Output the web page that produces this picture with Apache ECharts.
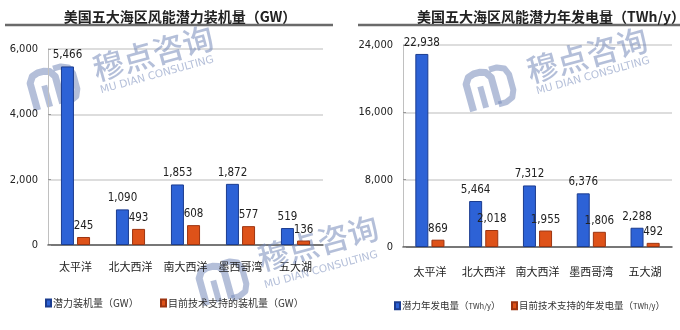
<!DOCTYPE html>
<html><head><meta charset="utf-8">
<script src="https://cdn.jsdelivr.net/npm/echarts@6/dist/echarts.min.js"></script>
<style>html,body{margin:0;padding:0;background:#fff}#c{width:680px;height:330px}</style>
</head><body><div id="c"></div>
<script>
// ---- data ----
const categories = ['太平洋', '北大西洋', '南大西洋', '墨西哥湾', '五大湖'];
const capacityPotential = [5466, 1090, 1853, 1872, 519];      // GW
const capacityCurrent   = [245, 493, 608, 577, 136];          // GW
const energyPotential   = [22938, 5464, 7312, 6376, 2288];    // TWh/y
const energyCurrent     = [869, 2018, 1955, 1806, 492];       // TWh/y
const titleLeft  = '美国五大海区风能潜力装机量（GW）';
const titleRight = '美国五大海区风能潜力年发电量（TWh/y）';
const nameCapPot = '潜力装机量（GW）';
const nameCapCur = '目前技术支持的装机量（GW）';
const nameEnPot  = '潜力年发电量（TWh/y）';
const nameEnCur  = '目前技术支持的年发电量（TWh/y）';

const NUM_FONT = '"Liberation Sans Narrow","DejaVu Sans Condensed",sans-serif';
const CJK_FONT = '"Noto Sans CJK SC",sans-serif';
const BLUE = '#2d62d6', BLUE_B = '#1b3c8f', ORANGE = '#de5219', ORANGE_B = '#9c3410';
const fmt = v => v.toLocaleString('en-US');

function yAxis(gi, max, interval) {
  return {
    type: 'value', gridIndex: gi, min: 0, max: max, interval: interval,
    axisLine: { show: true, lineStyle: { color: '#c0c0c0', width: 1 } },
    axisTick: { show: true, inside: true, length: 3, lineStyle: { color: '#999' } },
    splitLine: { lineStyle: { color: '#d2d2d2', width: 1.5 } },
    axisLabel: { formatter: fmt, margin: 10, color: '#222', fontFamily: NUM_FONT, fontSize: 11 }
  };
}
function xAxis(gi, margin) {
  return {
    type: 'category', gridIndex: gi, data: categories,
    axisLine: { lineStyle: { color: '#555', width: 1.5 } },
    axisTick: { show: false },
    axisLabel: { margin: margin, color: '#222', fontFamily: CJK_FONT, fontSize: 11, interval: 0 }
  };
}
function bar(name, data, gi, color, border) {
  return {
    name: name, type: 'bar', xAxisIndex: gi, yAxisIndex: gi, data: data,
    barWidth: 13, barGap: '24%', z: 3,
    itemStyle: { color: color, borderColor: border, borderWidth: 1 },
    label: { show: true, position: 'top', distance: 5, formatter: p => fmt(p.value),
             color: '#222', fontFamily: NUM_FONT, fontSize: 11.5 }
  };
}
function legend(name, left, top, unitSmall) {
  const l = { data: [name], left: left, top: top, itemWidth: 5, itemHeight: 7, itemGap: 3, icon: 'rect',
    textStyle: { fontFamily: CJK_FONT, fontSize: 10, color: '#333', padding: [0, 0, 0, -3] } };
  if (unitSmall) {
    l.formatter = n => { const i = n.indexOf('（'); return '{a|' + n.slice(0, i) + '（}{b|' + n.slice(i + 1, -1) + '}{a|）}'; };
    l.textStyle.rich = { a: { fontFamily: CJK_FONT, fontSize: 9.5, color: '#333' }, b: { fontFamily: CJK_FONT, fontSize: 7.5, color: '#333' } };
  }
  return l;
}

const WM_COLOR = 'rgba(118,138,185,0.55)';
function watermark(lx, ly, cx, cy, ex, ey) {
  const rot = 0.27;
  const st = w => ({ fill: null, stroke: WM_COLOR, lineWidth: w, lineJoin: 'round', lineCap: 'butt' });
  return [
    { type: 'group', x: lx, y: ly, rotation: rot, z: 1, silent: true, children: [
      { type: 'polyline', shape: { points: [[-22, 18], [-22, -10], [-18, -16], [-12, -18], [-6, -18], [0, -16], [4, -10], [4, 18]] }, style: st(7) },
      { type: 'line', shape: { x1: -9, y1: -4, x2: -9, y2: 18 }, style: st(6) },
      { type: 'polyline', shape: { points: [[4, 18], [12, 18], [19, 15], [22, 8], [22, -8], [19, -15], [12, -18], [4, -18]] }, style: st(6) }
    ]},
    { type: 'text', x: cx, y: cy, rotation: rot, z: 1, silent: true,
      style: { text: '穆点咨询', fill: WM_COLOR, font: '500 31px "Noto Sans CJK SC"', align: 'center', verticalAlign: 'middle' } },
    { type: 'text', x: ex, y: ey, rotation: rot, z: 1, silent: true,
      style: { text: 'MU DIAN CONSULTING', fill: WM_COLOR, font: '10.5px "DejaVu Sans"', align: 'center', verticalAlign: 'middle' } }
  ];
}

const option = {
  animation: false,
  backgroundColor: '#fff',
  title: [
    { text: titleLeft, left: 175, top: 5, textAlign: 'center',
      textStyle: { fontFamily: CJK_FONT, fontSize: 14, fontWeight: 'bold', color: '#222' } },
    { text: titleRight, left: 546, top: 5, textAlign: 'center',
      textStyle: { fontFamily: CJK_FONT, fontSize: 14, fontWeight: 'bold', color: '#222' } }
  ],
  legend: [
    legend(nameCapPot, 40, 293, false),
    legend(nameCapCur, 155, 293, false),
    legend(nameEnPot, 389, 296, true),
    legend(nameEnCur, 506, 296, true)
  ],
  grid: [
    { left: 48, right: 357, top: 49, bottom: 85 },
    { left: 403, right: 8, top: 45, bottom: 83 }
  ],
  xAxis: [xAxis(0, 16), xAxis(1, 19)],
  yAxis: [yAxis(0, 6000, 2000), yAxis(1, 24000, 8000)],
  series: [
    bar(nameCapPot, capacityPotential, 0, BLUE, BLUE_B),
    bar(nameCapCur, capacityCurrent, 0, ORANGE, ORANGE_B),
    bar(nameEnPot, energyPotential, 1, BLUE, BLUE_B),
    bar(nameEnCur, energyCurrent, 1, ORANGE, ORANGE_B)
  ],
  graphic: [
    { type: 'line', shape: { x1: 5, y1: 25, x2: 333, y2: 25 }, style: { stroke: '#6a6a6a', lineWidth: 2.5 } },
    { type: 'line', shape: { x1: 358, y1: 25, x2: 680, y2: 25 }, style: { stroke: '#6a6a6a', lineWidth: 2.5 } }
  ].concat(
    watermark(54, 87, 153, 53, 157, 75),
    watermark(490, 88, 587, 55, 593, 76),
    watermark(223, 282, 318, 243, 321, 270)
  )
};
const chart = echarts.init(document.getElementById('c'), null, { renderer: 'canvas' });
chart.setOption(option);
</script></body></html>
